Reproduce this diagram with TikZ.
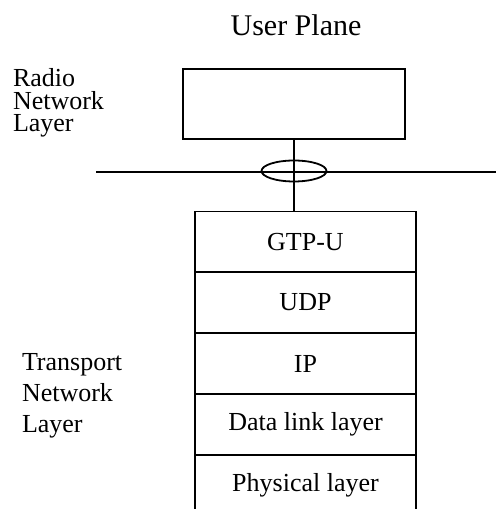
\documentclass[tikz,border=0pt]{standalone}
\usepackage{fontspec}
\setmainfont{Liberation Serif}
\usetikzlibrary{shapes.geometric}
\begin{document}
\begin{tikzpicture}[x=1pt,y=1pt,
  every node/.style={inner sep=0pt, outer sep=0pt},
  line/.style={line width=1.8pt},
  layer/.style={draw, line width=1.8pt, minimum width=221pt, minimum height=61pt,
    font=\fontsize{26}{26}\selectfont},
  sidelabel/.style={align=left, anchor=base west}]
\useasboundingbox (0,0) rectangle (496,509);
% title
\node[anchor=base, font=\fontsize{30}{30}\selectfont] (title) at (296,473) {User Plane};
% side labels (base anchor = baseline of last line)
\node[sidelabel, font=\fontsize{26}{22.5}\selectfont] (rnl) at (13,377) {Radio\\Network\\Layer};
\node[sidelabel, font=\fontsize{26}{31}\selectfont] (tnl) at (22,76) {Transport\\Network\\Layer};
% radio network layer box
\node[draw, line width=1.8pt, minimum width=222pt, minimum height=70pt] (rbox) at (294,405) {};
% horizontal bus
\coordinate (busL) at (96,337);
\coordinate (busR) at (496,337);
\draw[line] (busL) -- (busR);
% stack
\node[layer] (gtp) at (305.5,267) {GTP-U};
\node[layer] (udp) at (305.5,206.5) {UDP};
\node[layer] (ip) at (305.5,145.5) {IP};
\node[layer] (dl) at (305.5,84.5) {Data link layer};
\node[layer, draw=none] (phy) at (305.5,23.5) {Physical layer};
\draw[line] (phy.south west) -- (phy.north west) -- (phy.north east) -- (phy.south east);
% vertical connector
\draw[line] (rbox.south) -- (rbox.south |- gtp.north);
% ellipse
\node[draw, ellipse, line width=1.8pt, minimum width=65pt, minimum height=21pt] (ell) at (294,338) {};
\end{tikzpicture}
\end{document}
